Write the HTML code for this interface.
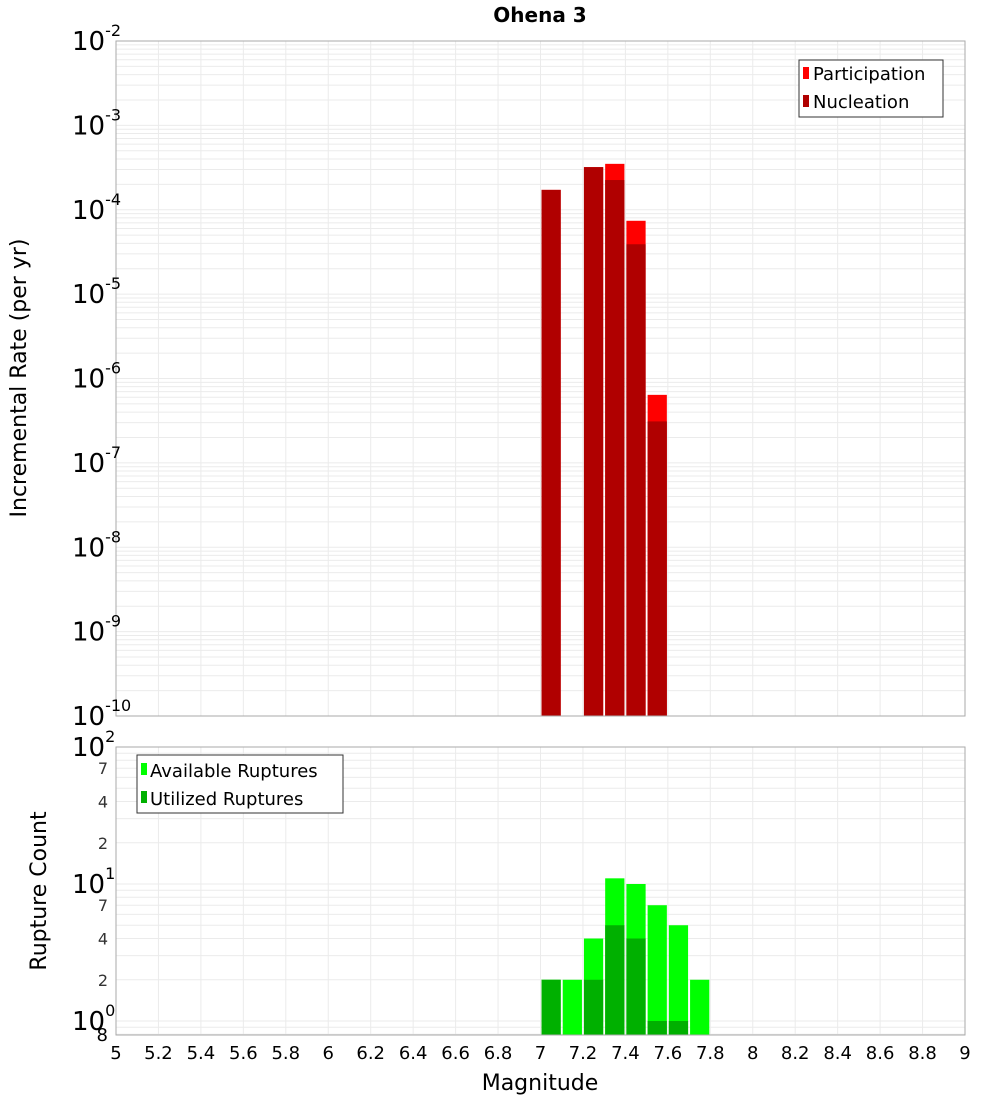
<!DOCTYPE html>
<html><head><meta charset="utf-8"><style>
body{margin:0;background:#fff;}
svg{display:block;font-family:"Liberation Sans","DejaVu Sans",sans-serif;}
</style></head><body>
<svg id="chart" width="1000" height="1100" viewBox="0 0 1000 1100" xmlns="http://www.w3.org/2000/svg">
<text x="540" y="22" text-anchor="middle" font-size="20" font-weight="bold" font-family="DejaVu Sans, sans-serif">Ohena 3</text>
<g id="topPanel"></g>
<g id="botPanel"></g>
<text transform="translate(26,378) rotate(-90)" text-anchor="middle" font-size="22" font-family="DejaVu Sans, sans-serif">Incremental Rate (per yr)</text>
<text transform="translate(46,891) rotate(-90)" text-anchor="middle" font-size="22" font-family="DejaVu Sans, sans-serif">Rupture Count</text>
<text x="540" y="1090" text-anchor="middle" font-size="22" font-family="DejaVu Sans, sans-serif">Magnitude</text>
<g>
<rect x="799" y="60" width="144" height="57" fill="#fff" stroke="#333"/>
<rect x="803" y="67" width="6" height="12" fill="#ff0000"/>
<text x="813" y="80" font-size="18" font-family="DejaVu Sans, sans-serif">Participation</text>
<rect x="803" y="95" width="6" height="12" fill="#b00000"/>
<text x="813" y="108" font-size="18" font-family="DejaVu Sans, sans-serif">Nucleation</text>
</g>
<g>
<rect x="137" y="755" width="206" height="58" fill="#fff" stroke="#333"/>
<rect x="141" y="763" width="6" height="12" fill="#00ff00"/>
<text x="150" y="777" font-size="18" font-family="DejaVu Sans, sans-serif">Available Ruptures</text>
<rect x="141" y="791" width="6" height="12" fill="#00b000"/>
<text x="150" y="805" font-size="18" font-family="DejaVu Sans, sans-serif">Utilized Ruptures</text>
</g>
</svg>
<script>
const mags = [7.05, 7.25, 7.35, 7.45, 7.55];
const participation = [1.72e-4, 3.2e-4, 3.5e-4, 7.4e-5, 6.4e-7];
const nucleation = [1.72e-4, 3.2e-4, 2.25e-4, 3.9e-5, 3.1e-7];
const countMags = [7.05, 7.15, 7.25, 7.35, 7.45, 7.55, 7.65, 7.75];
const available = [2, 2, 4, 11, 10, 7, 5, 2];
const utilized = [2, 0, 2, 5, 4, 1, 1, 0];
const xTicks = [5,5.2,5.4,5.6,5.8,6,6.2,6.4,6.6,6.8,7,7.2,7.4,7.6,7.8,8,8.2,8.4,8.6,8.8,9];
const topExps = [-10,-9,-8,-7,-6,-5,-4,-3,-2];
const botMinorLabels = [2,4,7,20,40,70];

const NS="http://www.w3.org/2000/svg";
const X0=116,X1=965;
const xs=m=>X0+(m-5)/4*(X1-X0);
const T0=41,T1=716;
const yTop=v=>T1-(Math.log10(v)+10)/8*(T1-T0);
const B0=747,B1=1035;
const yBot=v=>1021-Math.log10(v)*137;
function el(p,t,a){const e=document.createElementNS(NS,t);for(const k in a)e.setAttribute(k,a[k]);p.appendChild(e);return e;}
const topG=document.getElementById('topPanel'),botG=document.getElementById('botPanel');

// top panel
el(topG,'rect',{x:X0,y:T0,width:X1-X0,height:T1-T0,fill:'#fff'});
for(let e=-10;e<-2;e++)for(let k=1;k<10;k++){const y=yTop(k*Math.pow(10,e));const g=el(topG,'line',{x1:X0,x2:X1,y1:y,y2:y,stroke:'#ebebeb','stroke-width':1});}
xTicks.forEach(m=>{const g=el(topG,'line',{x1:xs(m),x2:xs(m),y1:T0,y2:T1,stroke:'#ebebeb'});});
mags.forEach((m,i)=>{
 const x=xs(m-0.05)+1,w=xs(m+0.05)-xs(m-0.05)-2;
 const p=el(topG,'rect',{x:x,y:yTop(participation[i]),width:w,height:T1-yTop(participation[i]),fill:'#ff0000'});
 
 const n=el(topG,'rect',{x:x,y:yTop(nucleation[i]),width:w,height:T1-yTop(nucleation[i]),fill:'#b00000'});
 
});
el(topG,'rect',{x:X0,y:T0,width:X1-X0,height:T1-T0,fill:'none',stroke:'#aaa'});
topExps.forEach(e=>{const y=yTop(Math.pow(10,e));const t=el(topG,'text',{x:72,y:y+9,'font-size':26,'font-family':'DejaVu Sans, sans-serif'});t.textContent='10';const s=el(t,'tspan',{dy:-14,'font-size':16});s.textContent=String(e);

});

// bottom panel
for(let e=-1;e<2;e++)for(let k=1;k<10;k++){const v=k*Math.pow(10,e);const y=yBot(v);if(y>B1||y<B0)continue;const g=el(botG,'line',{x1:X0,x2:X1,y1:y,y2:y,stroke:'#ebebeb'});}
xTicks.forEach(m=>{const g=el(botG,'line',{x1:xs(m),x2:xs(m),y1:B0,y2:B1,stroke:'#ebebeb'});});
countMags.forEach((m,i)=>{
 const x=xs(m-0.05)+1,w=xs(m+0.05)-xs(m-0.05)-2;
 const a=el(botG,'rect',{x:x,y:yBot(available[i]),width:w,height:B1-yBot(available[i]),fill:'#00ff00'});
 
 if(utilized[i]>0){const u=el(botG,'rect',{x:x,y:yBot(utilized[i]),width:w,height:B1-yBot(utilized[i]),fill:'#00b000'});
 }
});
el(botG,'rect',{x:X0,y:B0,width:X1-X0,height:B1-B0,fill:'none',stroke:'#aaa'});
[[1,0],[10,1],[100,2]].forEach(([v,e])=>{const y=yBot(v);const t=el(botG,'text',{x:72,y:y+9,'font-size':26,'font-family':'DejaVu Sans, sans-serif'});t.textContent='10';const s=el(t,'tspan',{dy:-14,'font-size':16});s.textContent=String(e);

});
botMinorLabels.forEach(v=>{const t=el(botG,'text',{x:108,y:yBot(v)+6,'text-anchor':'end','font-size':16,'fill':'#333','font-family':'DejaVu Sans, sans-serif'});t.textContent=String(v<10?v:v/10);

});
{const t=el(botG,'text',{x:108,y:1041,'text-anchor':'end','font-size':18,'font-family':'DejaVu Sans, sans-serif'});t.textContent='8';

}
xTicks.forEach(m=>{const t=el(botG,'text',{x:xs(m),y:1059,'text-anchor':'middle','font-size':18,'font-family':'DejaVu Sans, sans-serif'});t.textContent=String(m);

});
</script>
</body></html>
